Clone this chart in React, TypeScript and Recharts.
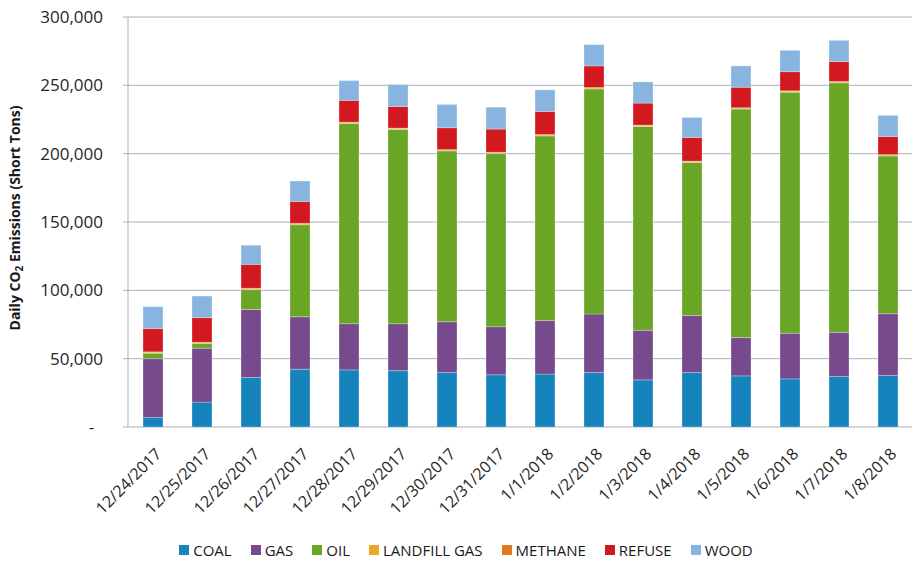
import React from "react";
import { Bar, BarChart, CartesianGrid, Legend, XAxis, YAxis } from "recharts";

const FONT = "'Open Sans', 'Noto Sans', sans-serif";
const GRID = "#A9B1B8";

const dates = [
  "12/24/2017", "12/25/2017", "12/26/2017", "12/27/2017", "12/28/2017", "12/29/2017",
  "12/30/2017", "12/31/2017", "1/1/2018", "1/2/2018", "1/3/2018", "1/4/2018",
  "1/5/2018", "1/6/2018", "1/7/2018", "1/8/2018",
];

// short tons per day
const coal = [7000, 18200, 36200, 42300, 41800, 41200, 39900, 38200, 38700, 39900, 34500, 39900, 37400, 35200, 36900, 37700];
const gas = [43000, 39500, 49800, 38400, 33800, 34400, 37100, 35200, 39300, 42800, 36300, 41600, 28000, 33400, 32400, 45200];
const oil = [4000, 3300, 14500, 67300, 146400, 142100, 125000, 126600, 135000, 164700, 149100, 112000, 167200, 176400, 182500, 115400];
const landfill = [800, 800, 800, 800, 800, 800, 800, 800, 800, 800, 800, 800, 800, 800, 800, 800];
const methane = [200, 200, 200, 200, 200, 200, 200, 200, 200, 200, 200, 200, 200, 200, 200, 200];
const refuse = [17000, 18000, 17500, 16000, 16000, 15800, 16000, 17000, 16900, 15800, 16100, 17400, 15000, 14000, 14600, 13300];
const wood = [16000, 15800, 14000, 15000, 14500, 16100, 17000, 16000, 15800, 15600, 15500, 14600, 15600, 15600, 15500, 15400];

const yTicks = [0, 50000, 100000, 150000, 200000, 250000, 300000];
const edgeTicks = dates.map((_, i) => i).concat(dates.length);

const SERIES = [
  { key: "coal", name: "COAL", color: "#1584BD", values: coal },
  { key: "gas", name: "GAS", color: "#764A8D", values: gas },
  { key: "oil", name: "OIL", color: "#69A625", values: oil },
  { key: "landfill", name: "LANDFILL GAS", color: "#E9A72B", values: landfill },
  { key: "methane", name: "METHANE", color: "#E07B1E", values: methane },
  { key: "refuse", name: "REFUSE", color: "#D2191F", values: refuse },
  { key: "wood", name: "WOOD", color: "#88B5DF", values: wood },
];

const data = dates.map((d, i) => {
  const row: Record<string, string | number> = { date: d };
  SERIES.forEach((s) => (row[s.key] = s.values[i]));
  return row;
});

const fmtY = (v: number) => (v === 0 ? "-\u00A0\u00A0" : v.toLocaleString("en-US"));

function DateTick({ x, y, payload }: any) {
  return (
    <g transform={`translate(${x + 6},${y + 24})`}>
      <text x={0} y={0} dy="0.35em" textAnchor="end" transform="rotate(-45)" fill="#262626" fontSize={16} fontFamily={FONT}>
        {payload.value}
      </text>
    </g>
  );
}

function YLabel({ viewBox }: any) {
  const cx = 20;
  const cy = viewBox.y + viewBox.height / 2 - 4;
  return (
    <text x={cx} y={cy} transform={`rotate(-90, ${cx}, ${cy})`} textAnchor="middle" fontFamily={FONT} fontSize={14} fontWeight={700} fill="#1a1a1a">
      Daily CO
      <tspan dy={3} fontSize={10}>2</tspan>
      <tspan dy={-3}> Emissions (Short Tons)</tspan>
    </text>
  );
}

function LegendRow() {
  return (
    <div style={{ display: "flex", justifyContent: "center", alignItems: "center", gap: 19, height: 26, paddingLeft: 20, fontFamily: FONT, fontSize: 15, color: "#1a1a1a" }}>
      {SERIES.map((s) => (
        <span key={s.key} style={{ display: "flex", alignItems: "center" }}>
          <span style={{ width: 10, height: 10, background: s.color, marginRight: 4, display: "inline-block" }} />
          {s.name}
        </span>
      ))}
    </div>
  );
}

export default function App() {
  return (
    <div style={{ position: "absolute", left: 0, top: 0, width: 912, height: 563, background: "#fff" }}>
      <BarChart width={912} height={563} data={data} margin={{ top: 17, right: 0, bottom: 0, left: 0 }} barSize={20}>
        <CartesianGrid horizontal vertical={false} stroke={GRID} strokeWidth={1} yAxisId="y" xAxisId="cat" />
        <XAxis
          xAxisId="edge"
          type="number"
          domain={[0, dates.length]}
          ticks={edgeTicks}
          height={0}
          tick={false}
          tickSize={6}
          tickLine={{ stroke: GRID }}
          axisLine={{ stroke: GRID }}
        />
        <XAxis
          xAxisId="cat"
          dataKey="date"
          height={110}
          interval={0}
          tickLine={false}
          tickSize={0}
          tickMargin={0}
          axisLine={false}
          tick={<DateTick />}
        />
        <YAxis
          yAxisId="y"
          width={128}
          domain={[0, 300000]}
          ticks={yTicks}
          tickFormatter={fmtY}
          tickSize={5}
          tickMargin={20}
          tickLine={{ stroke: GRID }}
          axisLine={{ stroke: GRID }}
          tick={{ fill: "#262626", fontSize: 17, fontFamily: FONT }}
          label={<YLabel />}
        />
        <Legend verticalAlign="bottom" content={<LegendRow />} />
        {SERIES.map((s) => (
          <Bar
            key={s.key}
            dataKey={s.key}
            name={s.name}
            stackId="a"
            xAxisId="cat"
            yAxisId="y"
            fill={s.color}
            stroke="rgba(255,255,255,0.45)"
            strokeWidth={0.6}
            isAnimationActive={false}
          />
        ))}
      </BarChart>
    </div>
  );
}
